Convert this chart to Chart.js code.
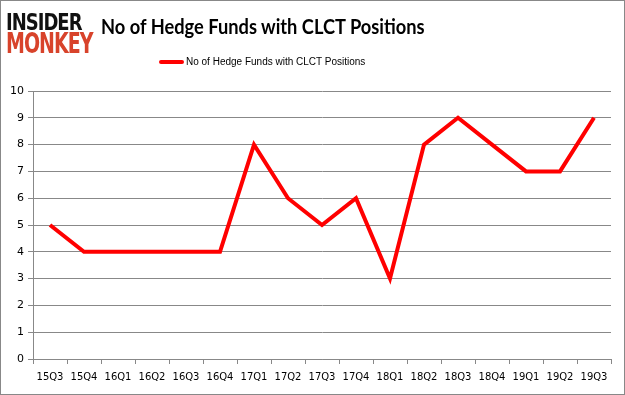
<!DOCTYPE html>
<html>
<head>
<meta charset="utf-8">
<script src="https://cdn.jsdelivr.net/npm/chart.js@4.4.0/dist/chart.umd.min.js"></script>
<style>
  body { margin: 0; background: #fff; }
  #wrap { position: relative; width: 625px; height: 395px; box-sizing: border-box; border: 1px solid #888; overflow: hidden; }
  #chart { position: absolute; left: 0; top: 0; }
  .logo { position: absolute; left: 5px; font-family: "DejaVu Sans", sans-serif; font-weight: bold; letter-spacing: -1px; transform-origin: left top; line-height: 1; }
  #title { position: absolute; left: 100px; top: 12px; font-family: Lato, sans-serif; font-weight: bold; font-size: 21px; color: #000; transform: scaleX(0.87); transform-origin: left top; white-space: nowrap; }
  #legend { position: absolute; left: 158px; top: 55px; font-family: "Liberation Sans", sans-serif; font-size: 10px; color: #000; white-space: nowrap; }
  #legend span.line { display: inline-block; width: 25px; height: 4px; background: #ff0000; vertical-align: middle; margin-right: 2px; border-radius: 2px; }
</style>
</head>
<body>
<div id="wrap">
  <canvas id="chart" width="623" height="393"></canvas>
  <div class="logo" style="top:9px;font-size:18px;color:#111;transform:scaleY(1.3);">INSIDER</div>
  <div class="logo" style="top:29px;font-size:19px;color:#d8432b;transform:scaleY(1.45);">MONKEY</div>
  <div id="title">No of Hedge Funds with CLCT Positions</div>
  <div id="legend"><span class="line"></span>No of Hedge Funds with CLCT Positions</div>
</div>
<script>
const quarters = ['15Q3','15Q4','16Q1','16Q2','16Q3','16Q4','17Q1','17Q2','17Q3','17Q4','18Q1','18Q2','18Q3','18Q4','19Q1','19Q2','19Q3'];
const hedgeFunds = [5,4,4,4,4,4,8,6,5,6,3,8,9,8,7,7,9];
const yTicks = [0,1,2,3,4,5,6,7,8,9,10];

const ctx = document.getElementById('chart').getContext('2d');
new Chart(ctx, {
    type: 'line',
    data: {
        labels: quarters,
        datasets: [{
            label: 'No of Hedge Funds with CLCT Positions',
            data: hedgeFunds,
            borderColor: '#ff0000',
            borderWidth: 4,
            pointRadius: 0,
            tension: 0,
            fill: false
        }]
    },
    options: {
        responsive: false,
        animation: false,
        layout: { padding: { top: 90, right: 13, left: 0, bottom: 0 } },
        plugins: { legend: { display: false }, tooltip: { enabled: false } },
        scales: {
            x: {
                offset: true,
                grid: { offset: true, drawOnChartArea: false, drawTicks: true, tickLength: 5, color: '#888' },
                border: { color: '#888' },
                ticks: { color: '#000', font: { family: 'DejaVu Sans', size: 10 }, padding: 7, maxRotation: 0, autoSkip: false },
                afterFit: s => { s.height = 35; }
            },
            y: {
                min: 0,
                max: 10,
                afterBuildTicks: s => { s.ticks = yTicks.map(v => ({ value: v })); },
                grid: { color: '#888', tickLength: 5 },
                border: { color: '#888' },
                ticks: { color: '#000', font: { family: 'DejaVu Sans', size: 11 }, padding: 4 },
                afterFit: s => { s.width = 32; }
            }
        }
    }
});
</script>
</body>
</html>
